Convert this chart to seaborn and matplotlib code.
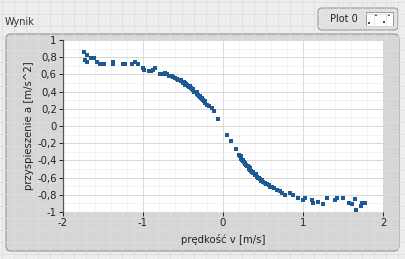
import numpy as np
import pandas as pd
import matplotlib
matplotlib.use("Agg")
import matplotlib.pyplot as plt
from matplotlib.patches import FancyBboxPatch, Rectangle
from matplotlib.ticker import MultipleLocator, FuncFormatter
import seaborn as sns

vel = [-1.74, -1.70, -1.73, -1.70, -1.65, -1.61, -1.58, -1.54, -1.49, -1.38, -1.37, -1.25, -1.23,
       -1.14, -1.10, -1.06, -1.00, -0.99, -0.93, -0.90, -0.87, -0.85, -0.79, -0.75, -0.72, -0.70,
       -0.68, -0.64, -0.62, -0.60, -0.58, -0.56, -0.54, -0.52, -0.50, -0.48, -0.47, -0.45, -0.44,
       -0.43, -0.42, -0.41, -0.40, -0.39, -0.38, -0.37, -0.36, -0.35, -0.34, -0.33, -0.32, -0.31,
       -0.30, -0.29, -0.28, -0.27, -0.26, -0.25, -0.24, -0.22, -0.20, -0.18, -0.14, -0.11, -0.06,
       -0.46, -0.41, -0.37, -0.33, -0.29, -0.26, -0.23, -0.53, -0.49,
       0.05, 0.10, 0.16, 0.20, 0.21, 0.22, 0.23, 0.24, 0.25, 0.26, 0.27, 0.28, 0.29, 0.30, 0.31,
       0.32, 0.33, 0.34, 0.35, 0.36, 0.37, 0.38, 0.40, 0.42, 0.44, 0.46, 0.48, 0.50, 0.52, 0.54,
       0.57, 0.59, 0.61, 0.64, 0.67, 0.71, 0.74, 0.78, 0.84, 0.88, 0.94, 1.00, 1.03, 1.11, 1.12,
       1.19, 1.25, 1.30, 1.40, 1.42, 1.50, 1.57, 1.61, 1.65, 1.66, 1.73, 1.74, 1.77,
       0.22, 0.25, 0.28, 0.31, 0.34, 0.37, 0.41, 0.45, 0.49, 0.55]
acc = [0.86, 0.83, 0.77, 0.75, 0.79, 0.79, 0.74, 0.72, 0.72, 0.75, 0.72, 0.72, 0.72,
       0.72, 0.74, 0.72, 0.67, 0.65, 0.64, 0.64, 0.65, 0.67, 0.61, 0.60, 0.62, 0.60,
       0.58, 0.58, 0.57, 0.56, 0.55, 0.53, 0.53, 0.52, 0.50, 0.50, 0.48, 0.48, 0.46,
       0.47, 0.45, 0.45, 0.44, 0.43, 0.42, 0.42, 0.40, 0.40, 0.39, 0.38, 0.37, 0.36,
       0.35, 0.34, 0.33, 0.32, 0.31, 0.30, 0.29, 0.27, 0.25, 0.23, 0.21, 0.18, 0.08,
       0.49, 0.46, 0.43, 0.39, 0.35, 0.32, 0.29, 0.54, 0.51,
       -0.11, -0.17, -0.27, -0.34, -0.35, -0.37, -0.38, -0.39, -0.41, -0.42, -0.43, -0.44, -0.45, -0.46, -0.47,
       -0.48, -0.50, -0.51, -0.52, -0.53, -0.54, -0.55, -0.57, -0.59, -0.61, -0.62, -0.64, -0.65, -0.66, -0.68,
       -0.69, -0.71, -0.71, -0.72, -0.74, -0.76, -0.78, -0.80, -0.78, -0.80, -0.84, -0.86, -0.84, -0.86, -0.89,
       -0.88, -0.91, -0.84, -0.86, -0.84, -0.84, -0.89, -0.91, -0.85, -0.98, -0.93, -0.89, -0.89,
       -0.35, -0.39, -0.43, -0.46, -0.49, -0.53, -0.56, -0.60, -0.63, -0.68]

x_ticks = [-2, -1, 0, 1, 2]
y_ticks = [-1, -0.8, -0.6, -0.4, -0.2, 0, 0.2, 0.4, 0.6, 0.8, 1]

df = pd.DataFrame({"v": vel, "a": acc})

sns.set_theme(style="white")
plt.rcParams['font.family'] = ['DejaVu Sans']

W, H = 405, 259
fig = plt.figure(figsize=(W / 100, H / 100), dpi=100)
fig.patch.set_facecolor('#ededed')

# panel grid background
bg = fig.add_axes([0, 0, 1, 1])
bg.set_xlim(0, W)
bg.set_ylim(H, 0)
bg.axis('off')
for gx in np.arange(2, W, 12):
    bg.axvline(gx, color='#dedede', lw=0.6)
for gy in np.arange(2, H, 12):
    bg.axhline(gy, color='#dedede', lw=0.6)

# inner frame
frame = FancyBboxPatch((6, 34), 393, 217, boxstyle="round,pad=0,rounding_size=5",
                       facecolor='#d6d6d6', edgecolor='#9a9a9a', lw=0.9)
bg.add_patch(frame)
bg.text(5, 22, "Wynik", fontsize=7, color='#333333', va='center', ha='left')

# legend box
leg = FancyBboxPatch((318, 8), 80, 22, boxstyle="round,pad=0,rounding_size=4",
                     facecolor='#e2e2e2', edgecolor='#9a9a9a', lw=0.8)
bg.add_patch(leg)
bg.text(358, 19, "Plot 0", fontsize=7, color='#222222', va='center', ha='right')
bg.add_patch(Rectangle((366, 12), 27, 14, facecolor='white', edgecolor='#888888', lw=0.6))
for (px, py) in [(369, 23), (376, 15), (389, 15), (384, 22)]:
    bg.add_patch(Rectangle((px - 1, py - 1), 2, 2, facecolor='#1c5a96', edgecolor='none'))

# plot area
ax = fig.add_axes([63 / W, (H - 212) / H, 320 / W, 172 / H])
ax.set_facecolor('white')
sns.scatterplot(data=df, x="v", y="a", ax=ax, marker='s', s=6, color='#1c5a96',
                linewidth=0, zorder=3)
ax.set_xlim(-2, 2)
ax.set_ylim(-1, 1)
ax.set_xticks(x_ticks)
ax.set_yticks(y_ticks)
ax.xaxis.set_minor_locator(MultipleLocator(0.2))
ax.yaxis.set_minor_locator(MultipleLocator(0.1))
ax.grid(which='major', color='#d8d8d8', lw=0.7)
ax.grid(which='minor', color='#efefef', lw=0.5)
ax.set_axisbelow(True)

fmt = FuncFormatter(lambda v, p: ('%g' % v).replace('.', ','))
ax.xaxis.set_major_formatter(fmt)
ax.yaxis.set_major_formatter(fmt)
ax.tick_params(axis='both', which='major', labelsize=7.3, colors='#222222', length=3,
               width=0.7, direction='out', pad=1.5, left=True, bottom=True)
ax.tick_params(axis='both', which='minor', length=0)
for s in ['top', 'right']:
    ax.spines[s].set_visible(False)
ax.spines['left'].set_color('#555555')
ax.spines['left'].set_linewidth(0.9)
ax.spines['bottom'].set_visible(False)

ax.set_xlabel("prędkość v [m/s]", fontsize=7.3, color='#222222', labelpad=4)
ax.set_ylabel("przyspieszenie a [m/s^2]", fontsize=7.3, color='#222222', labelpad=2)

fig.savefig("out.png", dpi=100, facecolor=fig.get_facecolor())
